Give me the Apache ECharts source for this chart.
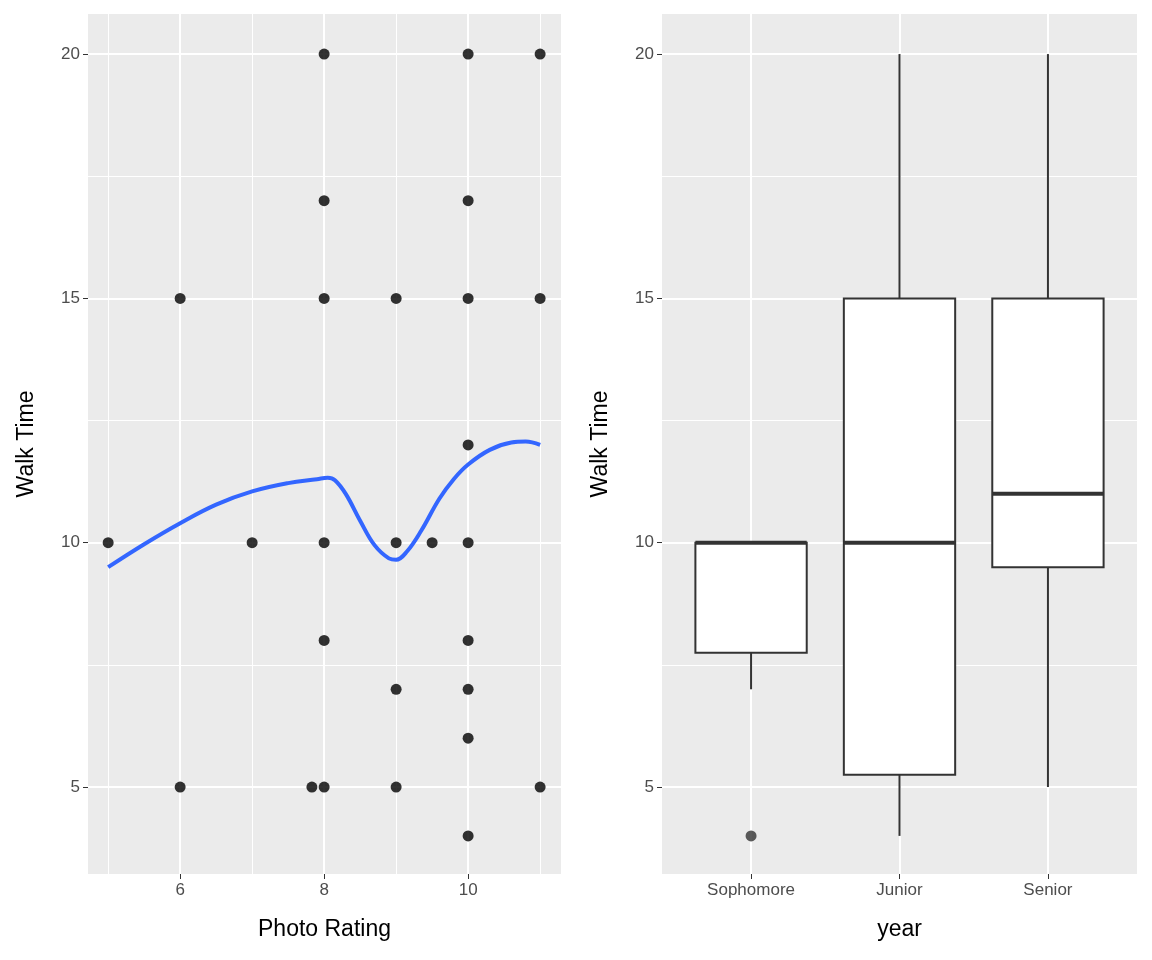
<!DOCTYPE html>
<html>
<head>
<meta charset="utf-8">
<script src="https://cdn.jsdelivr.net/npm/echarts@6/dist/echarts.min.js"></script>
<style>body{margin:0;background:#fff}#chart{width:1152px;height:960px}</style>
</head>
<body>
<div id="chart"></div>
<script>
var points = [
	[5,10],[6,15],[6,5],[7,10],[7.83,5],[8,20],[8,17],[8,15],[8,10],[8,8],[8,5],
	[9,15],[9,10],[9,7],[9,5],[9.5,10],[10,20],[10,17],[10,15],[10,12],[10,10],
	[10,8],[10,7],[10,6],[10,4],[11,20],[11,15],[11,5]
];
var smooth = [
	[5,9.5],[5.5,9.97],[6,10.4],[6.5,10.78],[7,11.05],[7.5,11.22],[7.9,11.3],[8.05,11.33],
	[8.15,11.28],[8.3,11.0],[8.5,10.45],[8.7,9.95],[8.9,9.68],[9.0,9.65],[9.15,9.82],
	[9.35,10.25],[9.6,10.9],[9.8,11.3],[10,11.6],[10.3,11.9],[10.6,12.05],[10.8,12.07],[11,12.0]
];
// [x, lowWhisker, q1, median, q3, highWhisker]
var boxes = [
	[1, 7, 7.75, 10, 10, 10],
	[2, 4, 5.25, 10, 15, 20],
	[3, 5, 9.5, 11, 15, 20]
];
var outliers = [[1, 4]];
var years = ['Sophomore', 'Junior', 'Senior'];

var font = 'Liberation Sans, Arial, sans-serif';
var label = {color: '#4d4d4d', fontSize: 17, fontFamily: font, margin: 8};
var tick = {show: true, length: 5, lineStyle: {color: '#333', width: 1}};
function yAxis(idx) {
	return {
		type: 'value', gridIndex: idx, min: 3.22, max: 20.82,
		name: 'Walk Time', nameLocation: 'middle', nameGap: 50, nameRotate: 90,
		nameTextStyle: {color: '#000', fontSize: 23, fontFamily: font},
		axisLine: {show: false}, splitLine: {show: false},
		axisTick: Object.assign({customValues: [5,10,15,20]}, tick),
		axisLabel: Object.assign({customValues: [5,10,15,20]}, label)
	};
}
function gridLines(xs, ys, minorX, minorY) {
	var d = [];
	minorX.forEach(function(v){ d.push({xAxis: v, lineStyle: {width: 1}}); });
	minorY.forEach(function(v){ d.push({yAxis: v, lineStyle: {width: 1}}); });
	xs.forEach(function(v){ d.push({xAxis: v, lineStyle: {width: 2}}); });
	ys.forEach(function(v){ d.push({yAxis: v, lineStyle: {width: 2}}); });
	return {silent: true, symbol: 'none', label: {show: false}, animation: false, z: 0,
		lineStyle: {color: '#fff', type: 'solid'}, data: d};
}

var option = {
	animation: false,
	grid: [
		{left: 88, top: 14, width: 473, height: 860, backgroundColor: '#ebebeb', show: true, borderWidth: 0},
		{left: 662, top: 14, width: 475, height: 860, backgroundColor: '#ebebeb', show: true, borderWidth: 0}
	],
	xAxis: [
		{
			type: 'value', gridIndex: 0, min: 4.72, max: 11.29,
			name: 'Photo Rating', nameLocation: 'middle', nameGap: 44,
			nameTextStyle: {color: '#000', fontSize: 23, fontFamily: font},
			axisLine: {show: false}, splitLine: {show: false},
			axisTick: Object.assign({customValues: [6,8,10]}, tick),
			axisLabel: Object.assign({customValues: [6,8,10]}, label)
		},
		{
			type: 'value', gridIndex: 1, min: 0.4, max: 3.6,
			name: 'year', nameLocation: 'middle', nameGap: 44,
			nameTextStyle: {color: '#000', fontSize: 23, fontFamily: font},
			axisLine: {show: false}, splitLine: {show: false},
			axisTick: Object.assign({customValues: [1,2,3]}, tick),
			axisLabel: Object.assign({customValues: [1,2,3], formatter: function(v){ return years[Math.round(v)-1]; }}, label)
		}
	],
	yAxis: [yAxis(0), yAxis(1)],
	series: [
		{
			type: 'line', xAxisIndex: 0, yAxisIndex: 0, data: [], silent: true, z: 0,
			markLine: gridLines([6,8,10], [5,10,15,20], [5,7,9,11], [7.5,12.5,17.5])
		},
		{
			type: 'line', xAxisIndex: 1, yAxisIndex: 1, data: [], silent: true, z: 0,
			markLine: gridLines([1,2,3], [5,10,15,20], [], [7.5,12.5,17.5])
		},
		{
			type: 'scatter', xAxisIndex: 0, yAxisIndex: 0, data: points, z: 5,
			symbolSize: 11, itemStyle: {color: '#000'}
		},
		{
			type: 'line', xAxisIndex: 0, yAxisIndex: 0, data: smooth, smooth: 0.4, z: 6,
			showSymbol: false, lineStyle: {color: '#3366ff', width: 4}
		},
		{
			type: 'custom', xAxisIndex: 1, yAxisIndex: 1, data: boxes, z: 5,
			renderItem: function(params, api) {
				var x = api.value(0), hw = 0.375;
				var lo = api.coord([x, api.value(1)]), q1 = api.coord([x, api.value(2)]);
				var md = api.coord([x, api.value(3)]), q3 = api.coord([x, api.value(4)]);
				var hi = api.coord([x, api.value(5)]);
				var l = api.coord([x - hw, 0])[0], r = api.coord([x + hw, 0])[0];
				var st = {stroke: '#333', lineWidth: 2};
				return {type: 'group', children: [
					{type: 'line', shape: {x1: lo[0], y1: lo[1], x2: q1[0], y2: q1[1]}, style: st},
					{type: 'line', shape: {x1: q3[0], y1: q3[1], x2: hi[0], y2: hi[1]}, style: st},
					{type: 'rect', shape: {x: l, y: q3[1], width: r - l, height: q1[1] - q3[1]},
						style: {fill: '#fff', stroke: '#333', lineWidth: 2}},
					{type: 'line', shape: {x1: l, y1: md[1], x2: r, y2: md[1]}, style: {stroke: '#333', lineWidth: 4}}
				]};
			}
		},
		{
			type: 'scatter', xAxisIndex: 1, yAxisIndex: 1, data: outliers, z: 6,
			symbolSize: 11, itemStyle: {color: '#333'}
		}
	]
};
var myChart = echarts.init(document.getElementById('chart'));
myChart.setOption(option);
</script>
</body>
</html>
